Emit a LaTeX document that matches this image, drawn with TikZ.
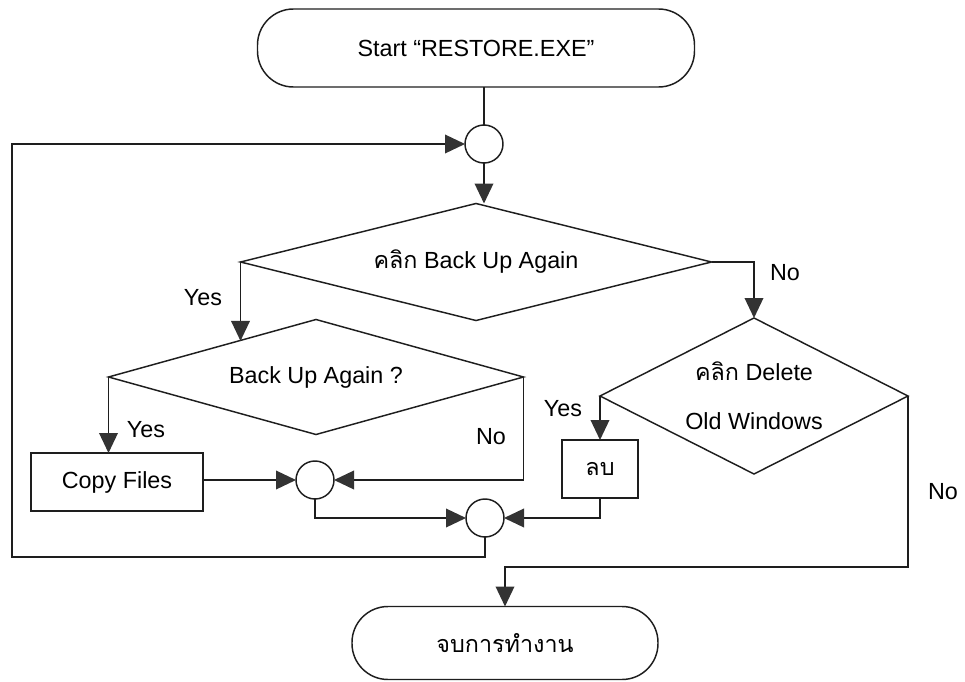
\documentclass[tikz,border=0pt]{standalone}
\usepackage{fontspec}
\setmainfont{Liberation Sans}
\newfontfamily\thaifont[Script=Thai]{Loma}
\usepackage{tikz}
\usetikzlibrary{arrows.meta, positioning, shapes.geometric}
\definecolor{linecolor}{HTML}{1E1E1E}
\definecolor{tipcolor}{HTML}{333333}

\begin{document}
\begin{tikzpicture}[
  x=0.75pt, y=-0.75pt,
  font=\fontsize{17.5}{21}\selectfont,
  term/.style={
    rectangle, rounded corners=27pt, draw=linecolor,
    line width=1.1pt, inner sep=0pt, outer sep=0pt
  },
  decide/.style={
    diamond, draw=linecolor, line width=1.1pt,
    inner sep=0pt, outer sep=0pt, align=center
  },
  box/.style={
    rectangle, draw=linecolor, line width=1.1pt,
    inner sep=0pt, outer sep=0pt
  },
  mergept/.style={
    circle, draw=linecolor, line width=1.1pt,
    minimum size=28.5pt, inner sep=0pt, outer sep=0pt
  },
  lbl/.style={inner sep=1pt},
  wire/.style={draw=linecolor, line width=1.1pt},
  arr/.style={wire, -{Triangle[length=15pt, width=14pt, color=tipcolor]}},
]
  \useasboundingbox (0,0) rectangle (965,682);

  % Terminals
  \node[term, minimum width=327.75pt, minimum height=58.5pt] (start) at (476,48) {Start “RESTORE.EXE"};
  \node[term, minimum width=229.5pt, minimum height=54.75pt] (stop) at (505,643) {{\thaifont จบการทำงาน}};

  % Decisions
  \node[decide, aspect=4.03, minimum width=353.25pt, minimum height=87.75pt] (d1) at (476,262) {{\thaifont คลิก} Back Up Again};
  \node[decide, aspect=3.6, minimum width=311.25pt, minimum height=86.25pt] (d2) at (316,377) {Back Up Again ?};
  \node[decide, aspect=1.97, minimum width=231pt, minimum height=117pt] (d3) at (754,396) {{\thaifont คลิก} Delete\\[16pt]Old Windows};

  % Actions
  \node[box, minimum width=129pt, minimum height=43.5pt] (copy) at (117,482) {Copy Files};
  \node[box, minimum width=57pt, minimum height=43.5pt] (del) at (600,469) {{\thaifont ลบ}};

  % Merge points
  \node[mergept] (c1) at (484,144) {};
  \node[mergept] (c2) at (315,480) {};
  \node[mergept] (c3) at (485,518) {};

  \coordinate (back)   at (12,557);
  \coordinate (nobend) at (908,567);

  % Main flow
  \draw[wire] (start.south -| c1) -- (c1.north);
  \draw[arr] (c1.south) -- (c1.south |- d1.north);
  \draw[arr] (d1.west) -- (d1.west |- d2.155);
  \draw[arr] (d1.east) -| (d3.north);

  % Back up branch
  \draw[arr] (d2.west) -- (d2.west |- copy.north);
  \draw[arr] (d2.east) |- (c2.east);
  \draw[arr] (copy.east |- c2) -- (c2.west);
  \draw[arr] (c2.south) |- (c3.west);

  % Delete branch
  \draw[arr] (d3.west) -- (del.north);
  \draw[arr] (del.south) |- (c3.east);

  % Loop back and exit
  \draw[arr] (c3.south) |- (back) |- (c1.west);
  \draw[arr] (d3.east) -- (nobend) -| (stop.north);

  % Labels
  \node[lbl] (yes1) at (203,298) {Yes};
  \node[lbl] (no1)  at (785,273) {No};
  \node[lbl] (yes2) at (146,430) {Yes};
  \node[lbl] (no2)  at (491,437) {No};
  \node[lbl] (yes3) at (563,409) {Yes};
  \node[lbl] (no3)  at (943,492) {No};
\end{tikzpicture}
\end{document}
